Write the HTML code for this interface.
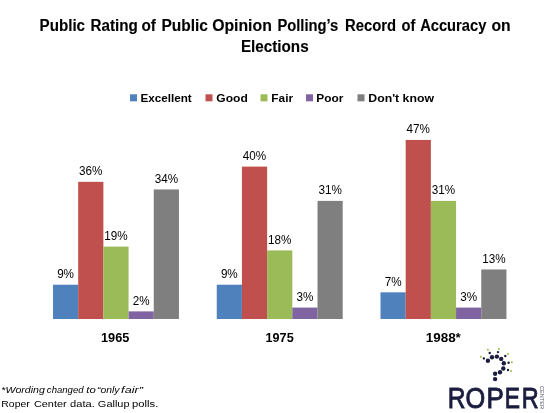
<!DOCTYPE html>
<html><head><meta charset="utf-8"><style>
html,body{margin:0;padding:0;background:#fff;width:550px;height:413px;overflow:hidden}
svg{display:block;will-change:transform}
text{font-family:"Liberation Sans",sans-serif}
</style></head><body>
<svg width="550" height="413" viewBox="0 0 550 413">
<rect width="550" height="413" fill="#fff"/>
<rect x="53.00" y="284.71" width="25.19" height="34.29" fill="#4F81BD"/>
<text x="65.59" y="278.11" text-anchor="middle" font-size="12.2" textLength="16.90" lengthAdjust="spacingAndGlyphs">9%</text>
<rect x="78.19" y="181.84" width="25.19" height="137.16" fill="#C0504D"/>
<text x="90.78" y="175.24" text-anchor="middle" font-size="12.2" textLength="23.40" lengthAdjust="spacingAndGlyphs">36%</text>
<rect x="103.38" y="246.61" width="25.19" height="72.39" fill="#9BBB59"/>
<text x="115.97" y="240.01" text-anchor="middle" font-size="12.2" textLength="23.40" lengthAdjust="spacingAndGlyphs">19%</text>
<rect x="128.57" y="311.38" width="25.19" height="7.62" fill="#8064A2"/>
<text x="141.16" y="304.78" text-anchor="middle" font-size="12.2" textLength="16.90" lengthAdjust="spacingAndGlyphs">2%</text>
<rect x="153.76" y="189.46" width="25.19" height="129.54" fill="#7F7F7F"/>
<text x="166.35" y="182.86" text-anchor="middle" font-size="12.2" textLength="23.40" lengthAdjust="spacingAndGlyphs">34%</text>
<rect x="216.75" y="284.71" width="25.19" height="34.29" fill="#4F81BD"/>
<text x="229.34" y="278.11" text-anchor="middle" font-size="12.2" textLength="16.90" lengthAdjust="spacingAndGlyphs">9%</text>
<rect x="241.94" y="166.60" width="25.19" height="152.40" fill="#C0504D"/>
<text x="254.53" y="160.00" text-anchor="middle" font-size="12.2" textLength="23.40" lengthAdjust="spacingAndGlyphs">40%</text>
<rect x="267.13" y="250.42" width="25.19" height="68.58" fill="#9BBB59"/>
<text x="279.73" y="243.82" text-anchor="middle" font-size="12.2" textLength="23.40" lengthAdjust="spacingAndGlyphs">18%</text>
<rect x="292.32" y="307.57" width="25.19" height="11.43" fill="#8064A2"/>
<text x="304.92" y="300.97" text-anchor="middle" font-size="12.2" textLength="16.90" lengthAdjust="spacingAndGlyphs">3%</text>
<rect x="317.51" y="200.89" width="25.19" height="118.11" fill="#7F7F7F"/>
<text x="330.11" y="194.29" text-anchor="middle" font-size="12.2" textLength="23.40" lengthAdjust="spacingAndGlyphs">31%</text>
<rect x="380.50" y="292.33" width="25.19" height="26.67" fill="#4F81BD"/>
<text x="393.10" y="285.73" text-anchor="middle" font-size="12.2" textLength="16.90" lengthAdjust="spacingAndGlyphs">7%</text>
<rect x="405.69" y="139.93" width="25.19" height="179.07" fill="#C0504D"/>
<text x="418.29" y="133.33" text-anchor="middle" font-size="12.2" textLength="23.40" lengthAdjust="spacingAndGlyphs">47%</text>
<rect x="430.88" y="200.89" width="25.19" height="118.11" fill="#9BBB59"/>
<text x="443.48" y="194.29" text-anchor="middle" font-size="12.2" textLength="23.40" lengthAdjust="spacingAndGlyphs">31%</text>
<rect x="456.07" y="307.57" width="25.19" height="11.43" fill="#8064A2"/>
<text x="468.67" y="300.97" text-anchor="middle" font-size="12.2" textLength="16.90" lengthAdjust="spacingAndGlyphs">3%</text>
<rect x="481.26" y="269.47" width="25.19" height="49.53" fill="#7F7F7F"/>
<text x="493.86" y="262.87" text-anchor="middle" font-size="12.2" textLength="23.40" lengthAdjust="spacingAndGlyphs">13%</text>
<rect x="130" y="94.3" width="7" height="7" fill="#4F81BD"/>
<rect x="205.5" y="94.3" width="7" height="7" fill="#C0504D"/>
<rect x="260.5" y="94.3" width="7" height="7" fill="#9BBB59"/>
<rect x="306" y="94.3" width="7" height="7" fill="#8064A2"/>
<rect x="357.5" y="94.3" width="7" height="7" fill="#7F7F7F"/>
<text x="39.56" y="30.5" font-size="16" font-weight="bold" font-style="normal" fill="#000" textLength="45.48" lengthAdjust="spacingAndGlyphs" stroke="#000" stroke-width="0.12">Public</text>
<text x="90.46" y="30.5" font-size="16" font-weight="bold" font-style="normal" fill="#000" textLength="47.33" lengthAdjust="spacingAndGlyphs" stroke="#000" stroke-width="0.12">Rating</text>
<text x="141.45" y="30.5" font-size="16" font-weight="bold" font-style="normal" fill="#000" textLength="14.46" lengthAdjust="spacingAndGlyphs" stroke="#000" stroke-width="0.12">of</text>
<text x="161.44" y="30.5" font-size="16" font-weight="bold" font-style="normal" fill="#000" textLength="46.51" lengthAdjust="spacingAndGlyphs" stroke="#000" stroke-width="0.12">Public</text>
<text x="212.16" y="30.5" font-size="16" font-weight="bold" font-style="normal" fill="#000" textLength="59.65" lengthAdjust="spacingAndGlyphs" stroke="#000" stroke-width="0.12">Opinion</text>
<text x="277.39" y="30.5" font-size="16" font-weight="bold" font-style="normal" fill="#000" textLength="60.86" lengthAdjust="spacingAndGlyphs" stroke="#000" stroke-width="0.12">Polling’s</text>
<text x="344.98" y="30.5" font-size="16" font-weight="bold" font-style="normal" fill="#000" textLength="51.04" lengthAdjust="spacingAndGlyphs" stroke="#000" stroke-width="0.12">Record</text>
<text x="401.58" y="30.5" font-size="16" font-weight="bold" font-style="normal" fill="#000" textLength="13.84" lengthAdjust="spacingAndGlyphs" stroke="#000" stroke-width="0.12">of</text>
<text x="420.14" y="30.5" font-size="16" font-weight="bold" font-style="normal" fill="#000" textLength="66.21" lengthAdjust="spacingAndGlyphs" stroke="#000" stroke-width="0.12">Accuracy</text>
<text x="491.44" y="30.5" font-size="16" font-weight="bold" font-style="normal" fill="#000" textLength="19.17" lengthAdjust="spacingAndGlyphs" stroke="#000" stroke-width="0.12">on</text>
<text x="240.96" y="52.1" font-size="16" font-weight="bold" font-style="normal" fill="#000" textLength="67.67" lengthAdjust="spacingAndGlyphs" stroke="#000" stroke-width="0.12">Elections</text>
<text x="140.50" y="102" font-size="11.2" font-weight="bold" font-style="normal" fill="#000" textLength="51.25" lengthAdjust="spacingAndGlyphs">Excellent</text>
<text x="216.30" y="102" font-size="11.2" font-weight="bold" font-style="normal" fill="#000" textLength="31.50" lengthAdjust="spacingAndGlyphs">Good</text>
<text x="271.39" y="102" font-size="11.2" font-weight="bold" font-style="normal" fill="#000" textLength="21.70" lengthAdjust="spacingAndGlyphs">Fair</text>
<text x="316.39" y="102" font-size="11.2" font-weight="bold" font-style="normal" fill="#000" textLength="27.06" lengthAdjust="spacingAndGlyphs">Poor</text>
<text x="368.36" y="102" font-size="11.2" font-weight="bold" font-style="normal" fill="#000" textLength="65.62" lengthAdjust="spacingAndGlyphs">Don't know</text>
<text x="100.99" y="342" font-size="12" font-weight="bold" font-style="normal" fill="#000" textLength="28.38" lengthAdjust="spacingAndGlyphs">1965</text>
<text x="265.60" y="342" font-size="12" font-weight="bold" font-style="normal" fill="#000" textLength="28.07" lengthAdjust="spacingAndGlyphs">1975</text>
<text x="425.74" y="342" font-size="12" font-weight="bold" font-style="normal" fill="#000" textLength="35.10" lengthAdjust="spacingAndGlyphs">1988*</text>
<text x="1.32" y="392.8" font-size="9.4" font-weight="normal" font-style="italic" fill="#000" textLength="43.55" lengthAdjust="spacingAndGlyphs">*Wording</text>
<text x="46.87" y="392.8" font-size="9.4" font-weight="normal" font-style="italic" fill="#000" textLength="36.69" lengthAdjust="spacingAndGlyphs">changed</text>
<text x="86.39" y="392.8" font-size="9.4" font-weight="normal" font-style="italic" fill="#000" textLength="9.43" lengthAdjust="spacingAndGlyphs">to</text>
<text x="97.05" y="392.8" font-size="9.4" font-weight="normal" font-style="italic" fill="#000" textLength="22.47" lengthAdjust="spacingAndGlyphs">“only</text>
<text x="121.13" y="392.8" font-size="9.4" font-weight="normal" font-style="italic" fill="#000" textLength="21.75" lengthAdjust="spacingAndGlyphs">fair”</text>
<text x="1.29" y="407.2" font-size="9.6" font-weight="normal" font-style="normal" fill="#000" textLength="28.45" lengthAdjust="spacingAndGlyphs">Roper</text>
<text x="33.96" y="407.2" font-size="9.6" font-weight="normal" font-style="normal" fill="#000" textLength="32.67" lengthAdjust="spacingAndGlyphs">Center</text>
<text x="70.10" y="407.2" font-size="9.6" font-weight="normal" font-style="normal" fill="#000" textLength="24.69" lengthAdjust="spacingAndGlyphs">data.</text>
<text x="97.88" y="407.2" font-size="9.6" font-weight="normal" font-style="normal" fill="#000" textLength="31.67" lengthAdjust="spacingAndGlyphs">Gallup</text>
<text x="132.14" y="407.2" font-size="9.6" font-weight="normal" font-style="normal" fill="#000" textLength="26.24" lengthAdjust="spacingAndGlyphs">polls.</text>
<text x="447.79" y="408.0" font-size="30" font-weight="normal" font-style="normal" fill="#1B1D3F" textLength="17.76" lengthAdjust="spacingAndGlyphs" stroke="#1B1D3F" stroke-width="0.9" stroke-linejoin="miter">R</text>
<text x="465.51" y="408.0" font-size="30" font-weight="normal" font-style="normal" fill="#1B1D3F" textLength="19.71" lengthAdjust="spacingAndGlyphs" stroke="#1B1D3F" stroke-width="0.9" stroke-linejoin="miter">O</text>
<text x="486.40" y="408.0" font-size="30" font-weight="normal" font-style="normal" fill="#1B1D3F" textLength="17.32" lengthAdjust="spacingAndGlyphs" stroke="#1B1D3F" stroke-width="0.9" stroke-linejoin="miter">P</text>
<text x="504.70" y="408.0" font-size="30" font-weight="normal" font-style="normal" fill="#1B1D3F" textLength="15.27" lengthAdjust="spacingAndGlyphs" stroke="#1B1D3F" stroke-width="0.9" stroke-linejoin="miter">E</text>
<text x="521.76" y="408.0" font-size="30" font-weight="normal" font-style="normal" fill="#1B1D3F" textLength="16.94" lengthAdjust="spacingAndGlyphs" stroke="#1B1D3F" stroke-width="0.9" stroke-linejoin="miter">R</text>
<circle cx="487.9" cy="360.7" r="2.2" fill="#1B1D3F"/>
<circle cx="492" cy="357.3" r="2.2" fill="#1B1D3F"/>
<circle cx="496.9" cy="356.6" r="2.2" fill="#1B1D3F"/>
<circle cx="501.2" cy="358.9" r="2.2" fill="#1B1D3F"/>
<circle cx="503.8" cy="363.2" r="2.2" fill="#1B1D3F"/>
<circle cx="503.3" cy="368.5" r="2.2" fill="#1B1D3F"/>
<circle cx="500" cy="372.3" r="2.2" fill="#1B1D3F"/>
<circle cx="495.1" cy="373.7" r="2.2" fill="#1B1D3F"/>
<circle cx="495.1" cy="379.1" r="2.2" fill="#1B1D3F"/>
<circle cx="483.9" cy="358.4" r="1.2" fill="#1B1D3F"/>
<circle cx="489.7" cy="353" r="1.2" fill="#1B1D3F"/>
<circle cx="498" cy="352.1" r="1.2" fill="#1B1D3F"/>
<circle cx="505.3" cy="356" r="1.2" fill="#1B1D3F"/>
<circle cx="508.6" cy="362.7" r="1.2" fill="#1B1D3F"/>
<circle cx="508" cy="370" r="1.2" fill="#1B1D3F"/>
<circle cx="480.8" cy="356.8" r="1" fill="#8DC63F"/>
<circle cx="487.9" cy="349.8" r="1" fill="#8DC63F"/>
<circle cx="498.9" cy="348.9" r="1" fill="#8DC63F"/>
<circle cx="508" cy="353.9" r="1" fill="#8DC63F"/>
<circle cx="511.8" cy="362.2" r="1" fill="#8DC63F"/>
<circle cx="511" cy="371" r="1" fill="#8DC63F"/>
<text transform="translate(540,386) rotate(90)" font-size="6" fill="#1B1D3F" fill-opacity="0.75" textLength="23" lengthAdjust="spacingAndGlyphs">CENTER</text>
</svg>
</body></html>
